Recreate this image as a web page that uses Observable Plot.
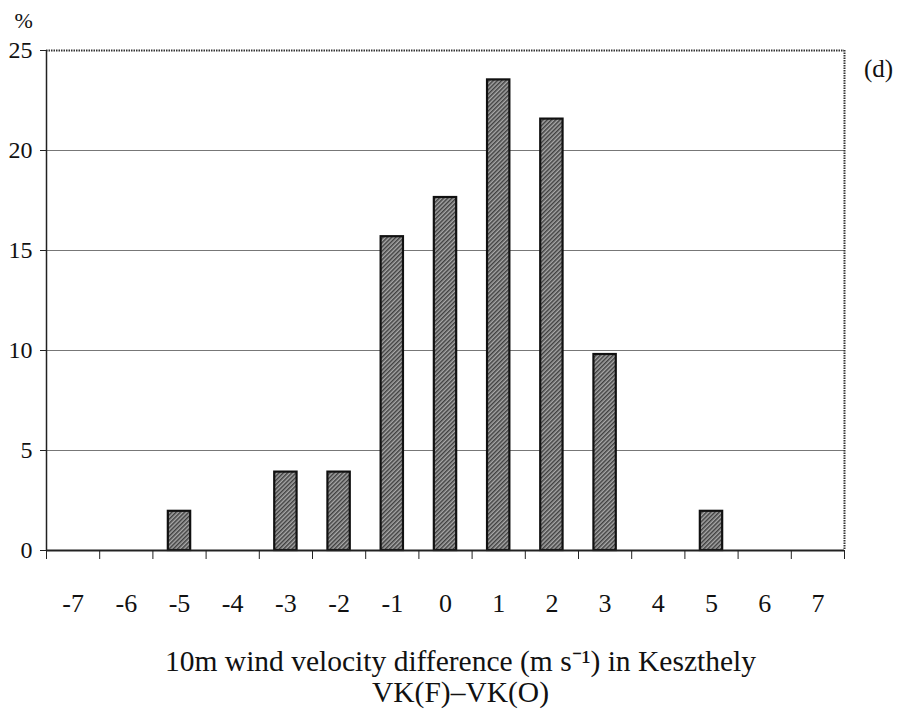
<!DOCTYPE html>
<html>
<head>
<meta charset="utf-8">
<script src="https://cdn.jsdelivr.net/npm/d3@7"></script>
<script src="https://cdn.jsdelivr.net/npm/@observablehq/plot@0.6"></script>
<style>
  html, body { margin: 0; padding: 0; background: #fff; }
  svg { display: block; }
</style>
</head>
<body>
<div id="chart"></div>
<script>
// Wind velocity difference classes (m/s) and frequency of occurrence (%)
const classes = [-7, -6, -5, -4, -3, -2, -1, 0, 1, 2, 3, 4, 5, 6, 7];
const percent = [0, 0, 1.96, 0, 3.92, 3.92, 15.69, 17.65, 23.53, 21.57, 9.80, 0, 1.96, 0, 0];
const yTicks = [0, 5, 10, 15, 20, 25];
const gridLevels = [5, 10, 15, 20];
const panelTag = "(d)";
const xTitle1 = "10m wind velocity difference (m s\u207B\u00B9) in Keszthely";
const xTitle2 = "VK(F)\u2013VK(O)";

const data = classes.map((c, i) => ({c, p: percent[i]})).filter(d => d.p > 0);
const halfBar = 0.21;
const xMin = classes[0] - 0.5, xMax = classes[classes.length - 1] + 0.5;
const boundaries = d3.range(xMin, xMax + 0.5, 1);

const serif = "'Liberation Serif', 'Times New Roman', serif";

const chart = Plot.plot({
  width: 909,
  height: 724,
  marginLeft: 46,
  marginRight: 65,
  marginTop: 50,
  marginBottom: 174,
  style: {fontFamily: serif, background: "#fff", color: "#111"},
  x: {type: "linear", domain: [xMin, xMax]},
  y: {domain: [0, 25]},
  marks: [
    // horizontal gridlines
    Plot.ruleY(gridLevels, {stroke: "#777", strokeWidth: 1}),
    // top frame and right frame
    Plot.ruleY([25], {stroke: "#333", strokeWidth: 2, strokeDasharray: "1.5,1"}),
    Plot.ruleX([xMax], {stroke: "#333", strokeWidth: 2, strokeDasharray: "1.5,1"}),
    // bars
    Plot.rectY(data, {
      x1: d => d.c - halfBar,
      x2: d => d.c + halfBar,
      y: "p",
      fill: "url(#hatch)",
      stroke: "#111",
      strokeWidth: 2.2
    }),
    // axis lines
    Plot.ruleY([0], {stroke: "#222", strokeWidth: 2}),
    Plot.ruleX([xMin], {stroke: "#222", strokeWidth: 1.5}),
    // y ticks and labels
    Plot.axisY({ticks: yTicks, tickSize: 6, tickFormat: () => "", anchor: "left", label: null, stroke: "#222"}),
    Plot.text(yTicks, {x: xMin, y: d => d, dx: -14, textAnchor: "end", fontSize: 24}),
    // x ticks at class boundaries, labels at class centres
    Plot.axisX({ticks: boundaries, tickSize: 9, tickFormat: () => "", label: null, stroke: "#222"}),
    Plot.text(classes, {x: d => d, y: 0, dy: 53, fontSize: 26, text: d => String(d)}),
    // unit label
    Plot.text(["%"], {frameAnchor: "top-left", dx: -32, dy: -38, fontSize: 22, textAnchor: "start"}),
    // panel tag
    Plot.text([panelTag], {frameAnchor: "top-right", dx: 34, dy: 9, fontSize: 25, textAnchor: "middle"}),
    // axis title
    Plot.text([xTitle1], {frameAnchor: "bottom", dx: 15, dy: 120, fontSize: 29.5}),
    Plot.text([xTitle2], {frameAnchor: "bottom", dx: 15, dy: 151, fontSize: 29.5})
  ]
});

// hatch pattern used by the bars
const svgNS = "http://www.w3.org/2000/svg";
const defs = document.createElementNS(svgNS, "defs");
defs.innerHTML = `
  <pattern id="hatch" patternUnits="userSpaceOnUse" width="3" height="3" patternTransform="rotate(45)">
    <rect width="3" height="3" fill="#a8a8a8"></rect>
    <rect width="1.5" height="3" fill="#404040"></rect>
  </pattern>`;
chart.insertBefore(defs, chart.firstChild);

document.getElementById("chart").appendChild(chart);
</script>
</body>
</html>
